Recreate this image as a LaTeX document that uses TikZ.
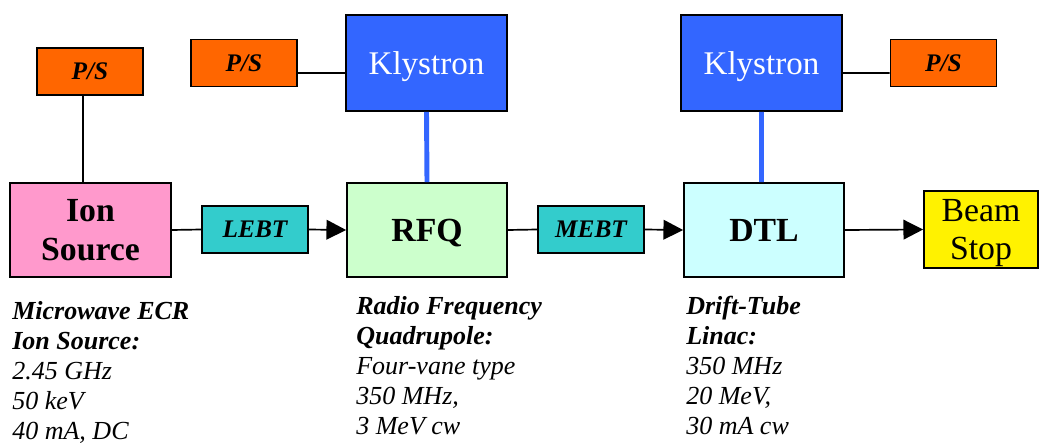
\documentclass[tikz,border=0pt]{standalone}
\usepackage{fontspec}
\setmainfont{Liberation Serif}
\usetikzlibrary{arrows.meta}
\definecolor{ionpink}{HTML}{FF99CC}
\definecolor{beamteal}{HTML}{33CCCC}
\definecolor{rfqgreen}{HTML}{CCFFCC}
\definecolor{dtlcyan}{HTML}{CCFFFF}
\definecolor{klyblue}{HTML}{3366FF}
\definecolor{psorange}{HTML}{FF6600}
\tikzset{
    box/.style={draw,line width=1.2pt,align=center,inner sep=0pt},
    unit/.style={box,minimum height=2.35cm,text depth=0pt,font=\bfseries\fontsize{24}{27.5}\selectfont},
    tube/.style={box,fill=beamteal,minimum height=1.175cm,font=\bfseries\itshape\fontsize{18}{21}\selectfont},
    kly/.style={box,fill=klyblue,text=white,text depth=0pt,minimum width=4.025cm,minimum height=2.4cm,font=\fontsize{23.5}{27}\selectfont},
    ps/.style={box,fill=psorange,minimum width=2.65cm,minimum height=1.175cm,font=\bfseries\itshape\fontsize{18}{21}\selectfont},
    note/.style={inner sep=0pt,align=left,anchor=north west,font=\itshape\fontsize{18.5}{21.3}\selectfont},
    wire/.style={line width=1.2pt},
    feed/.style={line width=3.5pt,klyblue},
}
\begin{document}
\begin{tikzpicture}[x=0.025cm,y=-0.025cm]
    \useasboundingbox (0,0) rectangle (1040,445);
    \node[unit,fill=ionpink,minimum width=4.025cm] (ion) at (90.5,230) {Ion\\Source};
    \node[tube,minimum width=2.65cm] (lebt) at (255,229.5) {LEBT};
    \node[unit,fill=rfqgreen,minimum width=4cm] (rfq) at (427,230) {RFQ};
    \node[tube,minimum width=2.65cm] (mebt) at (591,229.5) {MEBT};
    \node[unit,fill=dtlcyan,minimum width=4cm] (dtl) at (764,230) {DTL};
    \node[box,fill=yellow,minimum width=2.85cm,minimum height=1.925cm,text depth=0pt,
          font=\fontsize{24}{27.5}\selectfont] (stop) at (981,229.5) {Beam\\Stop};
    \node[kly] (klyA) at (426.5,63) {Klystron};
    \node[kly] (klyB) at (761.5,63) {Klystron};
    \node[ps] (psA) at (90,71.5) {P/S};
    \node[ps] (psB) at (244,63) {P/S};
    \node[ps] (psC) at (943.5,63) {P/S};
    \draw[wire]
        ([xshift=-0.175cm]psA.south) -- ([xshift=-0.175cm]psA.south |- ion.north)
        (ion.east) -- (lebt.west)
        (rfq.east) -- (mebt.west)
        ([yshift=-0.25cm]psB.east) -- ([yshift=-0.25cm]psB.east -| klyA.west)
        ([yshift=-0.25cm]klyB.east) -- ([yshift=-0.25cm]klyB.east -| psC.west)
        ;
    \draw[wire,-{Triangle[length=14pt,width=14pt]}]
        (lebt.east) -- (rfq.west);
    \draw[wire,-{Triangle[length=14pt,width=14pt]}]
        (mebt.east) -- (dtl.west);
    \draw[wire,-{Triangle[length=14pt,width=14pt]}]
        (dtl.east) -- (stop.west);
    \draw[feed]
        (klyA.south) -- (rfq.north)
        (klyB.south) -- (klyB.south |- dtl.north);
    \node[note] (ionTxt) at (12,301) {\textbf{Microwave ECR}\\\textbf{Ion Source:}\\2.45 GHz\\50 keV\\40 mA, DC};
    \node[note] (rfqTxt) at (356,296) {\textbf{Radio Frequency}\\\textbf{Quadrupole:}\\Four-vane type\\350 MHz,\\3 MeV cw};
    \node[note] (dtlTxt) at (686,296) {\textbf{Drift-Tube}\\\textbf{Linac:}\\350 MHz\\20 MeV,\\30 mA cw};
\end{tikzpicture}
\end{document}
